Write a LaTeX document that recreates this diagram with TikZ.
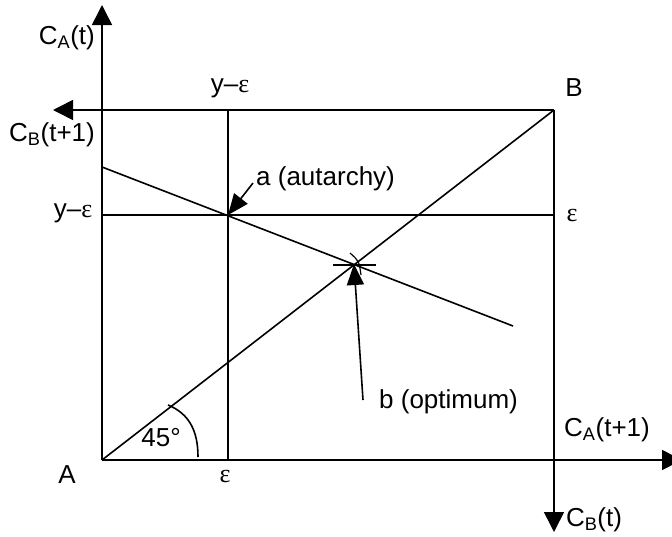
\documentclass[tikz,border=0pt]{standalone}
\usepackage{fontspec}
\setmainfont{Liberation Sans}
\newfontfamily\symfont{Liberation Serif}
\usetikzlibrary{arrows.meta,positioning}
\newcommand{\eps}{{\symfont ε}}

\begin{document}
\begin{tikzpicture}[x=1pt, y=-1pt,
  font=\fontsize{26}{30}\selectfont,
  axis/.style={line width=1.6pt, -{Triangle[length=20pt,width=20pt]}},
  guide/.style={line width=1.6pt},
  pointer/.style={line width=1.6pt, -{Triangle[length=21pt,width=17pt]}},
  lbl/.style={inner sep=1pt}
]
\useasboundingbox (0,0) rectangle (672,536);

% corners and axis ends
\coordinate (A) at (102,460);
\coordinate (B) at (554,110);
\coordinate (caT) at (102,5);
\coordinate (cbT1) at (53,110);
\coordinate (caT1) at (682,460);
\coordinate (cbT) at (554,532);

% endowment lines, budget line, points
\coordinate (epsTop) at (228,110);
\coordinate (epsBot) at (228,460);
\coordinate (yLeft) at (102,215);
\coordinate (yRight) at (554,215);
\coordinate (budStart) at (102,167);
\coordinate (budEnd) at (513,326);
\coordinate (autarchy) at (228,215);
\coordinate (optimum) at (354,265);

\draw[axis] (A) -- (caT);
\draw[axis] (A) -- (caT1);
\draw[axis] (B) -- (cbT1);
\draw[axis] (B) -- (cbT);

\draw[guide] (epsTop) -- (epsBot);
\draw[guide] (yLeft) -- (yRight);
\draw[guide] (A) -- (B);
\draw[guide] (budStart) -- (budEnd);

% mark at the optimum
\draw[line width=1.2pt] ([xshift=-21pt]optimum) -- ([xshift=22pt]optimum);
\draw[line width=1.2pt] ([shift={(-4,-12)}]optimum) .. controls ([shift={(5,-4)}]optimum) .. ([shift={(7,10)}]optimum);

% 45 degree arc
\draw[guide] (168,405) .. controls (190,414) and (198,432) .. (198,457);

% pointers
\node[lbl, anchor=west] (autLbl) at (255,179) {a (autarchy)};
\coordinate (autTail) at (253,183);
\draw[pointer] (autTail) -- (autarchy);
\node[lbl, anchor=west] (optLbl) at (378,402) {b (optimum)};
\coordinate (optTail) at (363,400);
\draw[pointer] (optTail) -- ([yshift=1pt]optimum);

% labels
\node[lbl, anchor=east] (lblCAt) at (96,38) {C\textsubscript{A}(t)};
\node[lbl, anchor=east] (lblCBt1) at (96,135) {C\textsubscript{B}(t+1)};
\node[lbl] (lblTopEps) at (230,88) {y–\eps};
\node[lbl] (lblB) at (574,88) {B};
\node[lbl] (lblLeftEps) at (73,213) {y–\eps};
\node[lbl] (lblRightEps) at (572,215) {\eps};
\node[lbl] (lbl45) at (161,438) {45°};
\node[lbl] (lblA) at (67,475) {A};
\node[lbl] (lblBotEps) at (225,476) {\eps};
\node[lbl] (lblCAt1) at (607,430) {C\textsubscript{A}(t+1)};
\node[lbl] (lblCBt) at (594,520) {C\textsubscript{B}(t)};
\end{tikzpicture}
\end{document}
